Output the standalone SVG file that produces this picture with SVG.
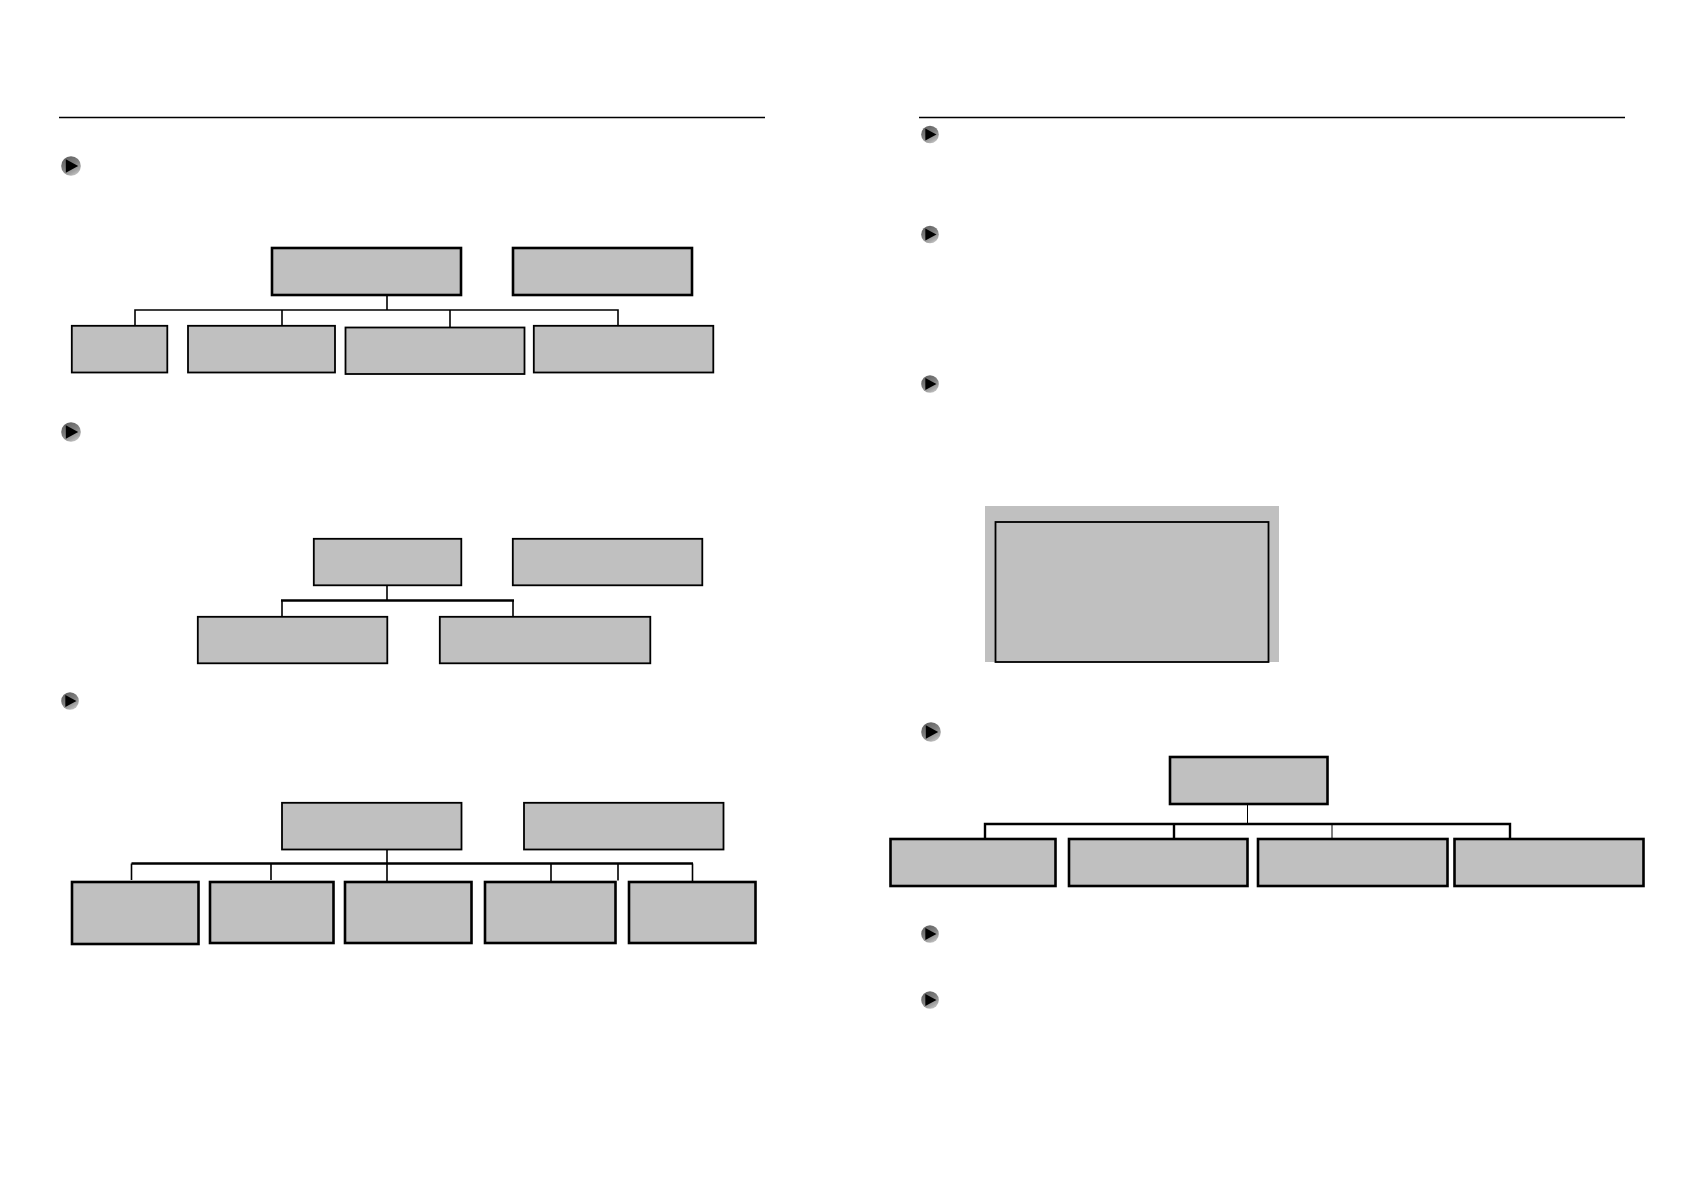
<svg xmlns="http://www.w3.org/2000/svg" width="1684" height="1190" viewBox="0 0 1684 1190">
<style>
.n{fill:#c0c0c0;stroke:#000;stroke-width:1.8}
.t{stroke-width:2.6}
.c{fill:none;stroke:#000;stroke-width:1.6}
.h{stroke-width:2.4}
.f{stroke-width:1}
.r{stroke:#000;stroke-width:1.4}
</style>
<defs>
<linearGradient id="g" x1="0.2" y1="0.05" x2="0.75" y2="1"><stop offset="0" stop-color="#626262"/><stop offset="0.45" stop-color="#7e7e7e"/><stop offset="0.8" stop-color="#a8a8a8"/><stop offset="1" stop-color="#cacaca"/></linearGradient>
<symbol id="b" viewBox="-10 -10 20 20" overflow="visible">
<circle r="9.8" fill="url(#g)"/>
<path d="M-5.2-6.8 7.2 0-5.2 6.800Z" fill="#000"/>
</symbol>
</defs>
<rect width="1684" height="1190" fill="#fff"/>
<g id="rules">
<path class="r" d="M59 117.500H765M919 117.500H1625"/>
</g>
<g id="connectors">
<path class="c" d="M387 296V310M135 325V310H618V325M282 310V325M450 310V327"/>
<path class="c" d="M387 586V600.500M282 616.500V600.500M513 600.500V616.500"/>
<path class="c h" d="M281 600.500H514"/>
<path class="c h" d="M131.500 863.500H693"/>
<path class="c" d="M387 850V881M131.500 863.500V880M271 863.500V880M551 863.500V881M618 863.500V880.500M692.500 863.500V881"/>
<path class="c f" d="M1247.500 805V823"/>
<path class="c h" d="M985 838V824H1510V838M1174 824V838"/>
<path class="c f" d="M1332 824V838"/>
</g>
<g id="bullet1"><use href="#b" x="61" y="156" width="20" height="20"/></g>
<g id="bullet2"><use href="#b" x="61" y="422" width="20" height="20"/></g>
<g id="bullet3"><use href="#b" x="61" y="692" width="18" height="18"/></g>
<g id="bullet4"><use href="#b" x="921" y="125.500" width="18" height="18"/></g>
<g id="bullet5"><use href="#b" x="921" y="225.500" width="18" height="18"/></g>
<g id="bullet6"><use href="#b" x="921" y="375" width="18" height="18"/></g>
<g id="bullet7"><use href="#b" x="921" y="722" width="20" height="20"/></g>
<g id="bullet8"><use href="#b" x="921" y="925" width="18" height="18"/></g>
<g id="bullet9"><use href="#b" x="921" y="991" width="18" height="18"/></g>
<g id="node-a1"><rect class="n t" x="272" y="248" width="189" height="47"/></g>
<g id="node-a2"><rect class="n t" x="513" y="248" width="179" height="47"/></g>
<g id="node-a3"><rect class="n" x="71.800" y="325.800" width="95.500" height="46.700"/></g>
<g id="node-a4"><rect class="n" x="188" y="325.800" width="147" height="46.700"/></g>
<g id="node-a5"><rect class="n" x="345.500" y="327.500" width="179" height="46.500"/></g>
<g id="node-a6"><rect class="n" x="533.800" y="325.800" width="179.500" height="46.700"/></g>
<g id="node-b1"><rect class="n" x="313.800" y="538.800" width="147.500" height="46.500"/></g>
<g id="node-b2"><rect class="n" x="512.800" y="538.800" width="189.500" height="46.500"/></g>
<g id="node-b3"><rect class="n" x="197.800" y="616.800" width="189.500" height="46.500"/></g>
<g id="node-b4"><rect class="n" x="439.800" y="616.800" width="210.500" height="46.500"/></g>
<g id="node-c1"><rect class="n" x="282" y="802.800" width="179.500" height="46.700"/></g>
<g id="node-c2"><rect class="n" x="524" y="802.800" width="199.500" height="46.700"/></g>
<g id="node-c3"><rect class="n t" x="72" y="882" width="126.500" height="62"/></g>
<g id="node-c4"><rect class="n t" x="210" y="882" width="123.500" height="61"/></g>
<g id="node-c5"><rect class="n t" x="345" y="882" width="126.500" height="61"/></g>
<g id="node-c6"><rect class="n t" x="485" y="882" width="130.500" height="61"/></g>
<g id="node-c7"><rect class="n t" x="629" y="882" width="126.500" height="61"/></g>
<g id="node-d-back"><rect x="985" y="506" width="294" height="156" fill="#c0c0c0"/></g>
<g id="node-d"><rect class="n" x="995.500" y="522" width="273" height="140"/></g>
<g id="node-e1"><rect class="n t" x="1170" y="757" width="157.500" height="47"/></g>
<g id="node-e2"><rect class="n t" x="890.500" y="839" width="165" height="47"/></g>
<g id="node-e3"><rect class="n t" x="1069" y="839" width="178.500" height="47"/></g>
<g id="node-e4"><rect class="n t" x="1258" y="839" width="189.500" height="47"/></g>
<g id="node-e5"><rect class="n t" x="1454.500" y="839" width="189" height="47"/></g>
</svg>
